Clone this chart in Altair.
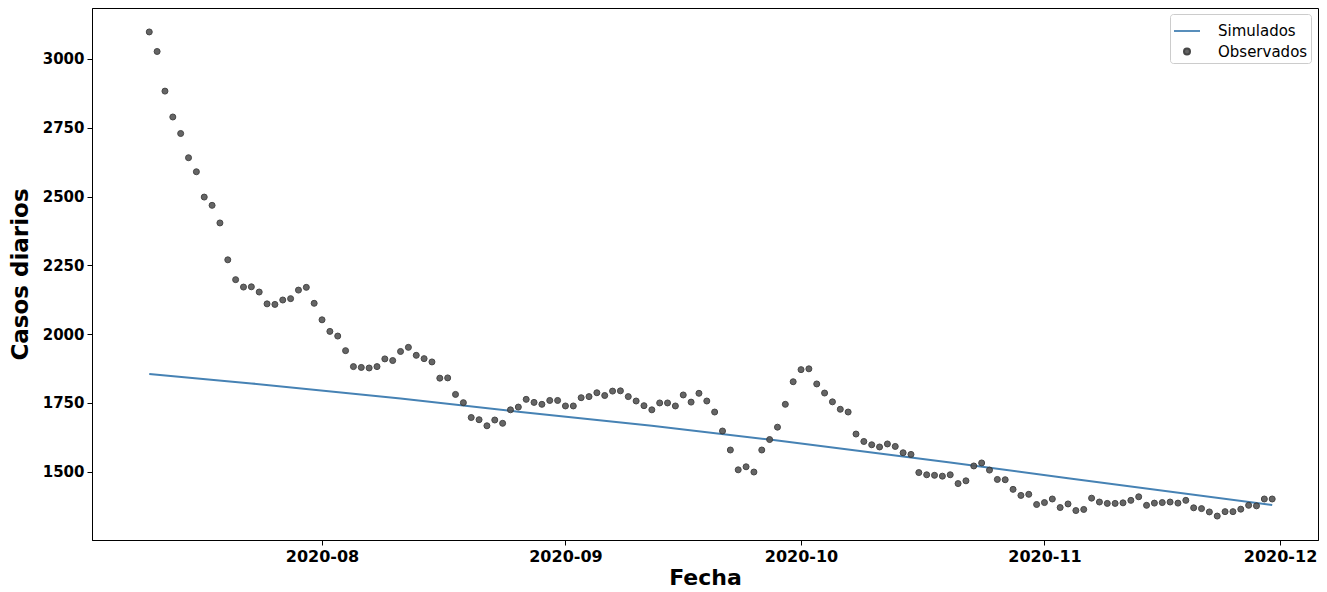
import altair as alt
import pandas as pd

# ---- data ----
inicio = "2020-07-10"
observados = [
    3098, 3027, 2883, 2789, 2729, 2641, 2590, 2498, 2468, 2404,
    2270, 2198, 2171, 2172, 2153, 2110, 2108, 2124, 2129, 2160,
    2170, 2112, 2052, 2010, 1993, 1940, 1882, 1879, 1877, 1882,
    1910, 1904, 1937, 1952, 1923, 1911, 1899, 1840, 1841, 1781,
    1751, 1697, 1689, 1667, 1688, 1676, 1725, 1735, 1763, 1752,
    1745, 1759, 1759, 1739, 1739, 1769, 1773, 1787, 1777, 1793,
    1794, 1773, 1757, 1740, 1725, 1750, 1750, 1739, 1779, 1753,
    1785, 1757, 1717, 1648, 1579, 1507, 1518, 1499, 1579, 1617,
    1662, 1745, 1827, 1871, 1874, 1819, 1786, 1754, 1727, 1717,
    1637, 1610, 1598, 1590, 1601, 1592, 1569, 1563, 1497, 1489,
    1487, 1484, 1489, 1457, 1467, 1521, 1532, 1506, 1472, 1471,
    1436, 1414, 1418, 1381, 1388, 1401, 1370, 1383, 1359, 1363,
    1404, 1390, 1385, 1385, 1387, 1396, 1409, 1378, 1386, 1388,
    1390, 1386, 1396, 1369, 1366, 1354, 1339, 1355, 1355, 1364,
    1378, 1376, 1401, 1401,
]
sim_fechas = ["2020-07-10", "2020-07-23", "2020-08-11", "2020-08-26", "2020-09-12",
              "2020-09-27", "2020-10-20", "2020-11-04", "2020-11-30"]
simulados = [1855, 1821, 1766, 1718, 1667, 1617, 1534, 1476, 1379]

series = ["Simulados", "Observados"]
colores = ["#4682b4", "#333333"]
rellenos = ["#4682b4", "#555555"]
y_ticks = [1500, 1750, 2000, 2250, 2500, 2750, 3000]

fechas_obs = pd.date_range(inicio, periods=len(observados), freq="D").strftime("%Y-%m-%dT00:00:00")
obs_df = pd.DataFrame({"fecha": list(fechas_obs), "casos": observados, "serie": "Observados"})
sim_df = pd.DataFrame({"fecha": [d + "T00:00:00" for d in sim_fechas], "casos": simulados,
                       "serie": "Simulados"})

FONT = "DejaVu Sans"

leg = alt.Legend(title=None, orient="none", legendX=1078, legendY=6,
                 strokeColor="#cccccc", fillColor="white", cornerRadius=3,
                 padding=3, labelFont=FONT, labelFontSize=15, labelColor="black",
                 labelOffset=17, rowPadding=5, symbolStrokeWidth=2, symbolOpacity=0.9)

x_enc = alt.X("fecha:T", title="Fecha",
              scale=alt.Scale(domain=[alt.DateTime(year=2020, month=7, date=2, hours=17),
                                      alt.DateTime(year=2020, month=12, date=5, hours=20)]),
              axis=alt.Axis(format="%Y-%m", tickCount={"interval": "month", "step": 1},
                            labelFontSize=16, titleFontSize=22, titlePadding=3))
y_enc = alt.Y("casos:Q", title="Casos diarios",
              scale=alt.Scale(domain=[1252, 3185], nice=False, zero=False),
              axis=alt.Axis(values=y_ticks, format="d", labelFontSize=15,
                            titleFontSize=23, titlePadding=10))

color_enc = alt.Color("serie:N", scale=alt.Scale(domain=series, range=colores), legend=leg)

linea = alt.Chart(sim_df).mark_line(strokeWidth=2).encode(
    x=x_enc, y=y_enc, color=color_enc
)

puntos = alt.Chart(obs_df).mark_point(filled=False, opacity=0.9, strokeWidth=1).encode(
    x=x_enc, y=y_enc,
    color=color_enc,
    fill=alt.Fill("serie:N", scale=alt.Scale(domain=series, range=rellenos), legend=leg),
    shape=alt.Shape("serie:N", scale=alt.Scale(domain=series, range=["stroke", "circle"]), legend=leg),
    size=alt.Size("serie:N", scale=alt.Scale(domain=series, range=[676, 36]), legend=leg),
)

chart = alt.layer(linea, puntos).properties(
    width=1226, height=532,
    autosize=alt.AutoSizeParams(type="none"),
    padding={"left": 84, "top": 0, "right": 1, "bottom": 52},
).configure_view(
    stroke="black", strokeWidth=1
).configure_axis(
    grid=False, domainColor="black", tickColor="black", tickSize=5,
    labelFont=FONT, labelFontWeight="bold", labelColor="black",
    labelPadding=3,
    titleFont=FONT, titleFontWeight="bold", titleColor="black",
)

chart.save("out.html", embed_options={"renderer": "svg", "actions": False})
